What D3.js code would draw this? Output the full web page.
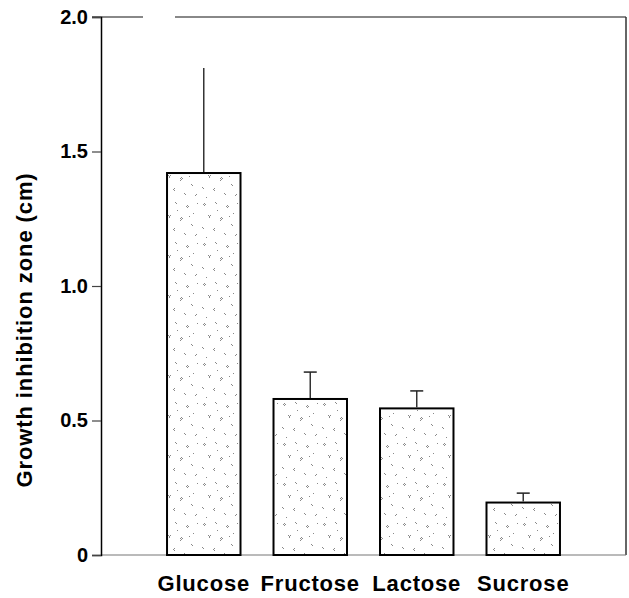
<!DOCTYPE html>
<html>
<head>
<meta charset="utf-8">
<script src="https://cdn.jsdelivr.net/npm/d3@7"></script>
<style>
  html, body { margin: 0; padding: 0; background: #fff; }
  svg { display: block; font-family: "Liberation Sans", Arial, sans-serif; }
</style>
</head>
<body>
<script>
const categories = ["Glucose", "Fructose", "Lactose", "Sucrose"];
const means = [1.42, 0.58, 0.545, 0.195];
const errors = [0.39, 0.10, 0.065, 0.035];
const yTicks = [0, 0.5, 1.0, 1.5, 2.0];
const yTickLabels = ["0", "0.5", "1.0", "1.5", "2.0"];
const yTitle = "Growth inhibition zone (cm)";

const W = 629, H = 598;
const pLeft = 101, pRight = 626, pTop = 17, pBottom = 555;

const svg = d3.select("body").append("svg").attr("width", W).attr("height", H);

// stipple pattern (decorative)
const defs = svg.append("defs");
const pat = defs.append("pattern").attr("id", "stip").attr("patternUnits", "userSpaceOnUse")
  .attr("width", 40).attr("height", 40);
pat.append("rect").attr("width", 40).attr("height", 40).attr("fill", "#fff");
const dots = [[3,4],[4,5],[5,4],[4,3],[15,2],[16,3],[26,6],[27,7],[27,5],[28,6],[33,13],[8,15],[9,16],[10,15],[9,17],[20,18],[21,19],[22,18],[21,17],[20,20],[31,24],[32,25],[2,27],[3,28],[13,29],[14,30],[14,28],[24,33],[25,34],[35,35],[36,34],[6,37],[17,10],[29,16],[37,3]];
dots.forEach(([dx, dy]) => pat.append("rect").attr("x", dx).attr("y", dy).attr("width", 1).attr("height", 1).attr("fill", "#8a8a8a"));

const x = d3.scaleBand().domain(categories).range([pLeft, pRight]).paddingInner(0.31).paddingOuter(0.62);
const y = d3.scaleLinear().domain([0, 2]).range([pBottom, pTop]);

// frame top (with scan gap) and right
svg.append("line").attr("x1", pLeft - 9).attr("x2", 143).attr("y1", pTop).attr("y2", pTop)
  .attr("stroke", "#888").attr("stroke-width", 2);
svg.append("line").attr("x1", 175).attr("x2", pRight).attr("y1", pTop).attr("y2", pTop)
  .attr("stroke", "#888").attr("stroke-width", 2);
svg.append("line").attr("x1", pRight).attr("x2", pRight).attr("y1", pTop).attr("y2", pBottom)
  .attr("stroke", "#333").attr("stroke-width", 1.5);
// bottom axis line
svg.append("line").attr("x1", pLeft).attr("x2", pRight).attr("y1", pBottom).attr("y2", pBottom)
  .attr("stroke", "#777").attr("stroke-width", 1.2);

// bars
svg.selectAll("rect.bar").data(categories).join("rect").attr("class", "bar")
  .attr("x", d => x(d)).attr("width", x.bandwidth())
  .attr("y", (d, i) => y(means[i])).attr("height", (d, i) => y(0) - y(means[i]))
  .attr("fill", "url(#stip)").attr("stroke", "#000").attr("stroke-width", 2);

// error bars
const eg = svg.append("g");
categories.forEach((c, i) => {
  const cx = x(c) + x.bandwidth() / 2;
  eg.append("line").attr("x1", cx).attr("x2", cx).attr("y1", y(means[i]) - 1).attr("y2", y(means[i] + errors[i]))
    .attr("stroke", "#333").attr("stroke-width", 1.5);
  if (i > 0) {
    eg.append("line").attr("x1", cx - 6.5).attr("x2", cx + 6.5).attr("y1", y(means[i] + errors[i])).attr("y2", y(means[i] + errors[i]))
      .attr("stroke", "#222").attr("stroke-width", 1.5);
  }
});

// y axis
const yAxis = d3.axisLeft(y).tickValues(yTicks).tickFormat((d, i) => yTickLabels[i]).tickSize(9).tickPadding(4);
const ga = svg.append("g").attr("transform", `translate(${pLeft},0)`).call(yAxis);
ga.select(".domain").attr("stroke", "#000").attr("stroke-width", 1.5);
ga.selectAll(".tick line").attr("stroke", "#444").attr("stroke-width", 1.2);
ga.selectAll(".tick text").attr("font-size", 20).attr("font-weight", "bold").attr("fill", "#000")
  .attr("font-family", "Liberation Sans, Arial, sans-serif");

// category labels
svg.selectAll("text.cat").data(categories).join("text").attr("class", "cat")
  .attr("x", d => x(d) + x.bandwidth() / 2).attr("y", 591)
  .attr("text-anchor", "middle").attr("font-size", 22).attr("font-weight", "bold")
  .attr("letter-spacing", 0.8).text(d => d);

// y title
svg.append("text").attr("transform", `translate(32,330) rotate(-90)`)
  .attr("text-anchor", "middle").attr("font-size", 22).attr("font-weight", "bold")
  .attr("letter-spacing", 0.9).text(yTitle);
</script>
</body>
</html>
